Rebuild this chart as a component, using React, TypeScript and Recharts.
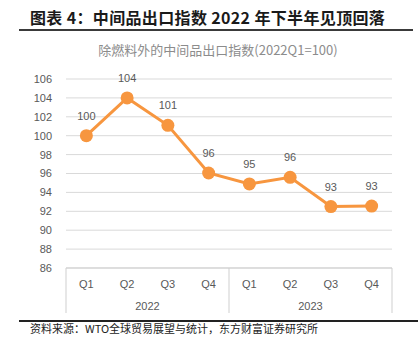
import React from 'react';
import { LineChart, Line, XAxis, YAxis, CartesianGrid, LabelList } from 'recharts';

const quarters = ['Q1', 'Q2', 'Q3', 'Q4', 'Q1', 'Q2', 'Q3', 'Q4'];
const years = ['2022', '2022', '2022', '2022', '2023', '2023', '2023', '2023'];
const values = [100, 104, 101.1, 96.05, 94.9, 95.6, 92.5, 92.55];
const yTicks = [86, 88, 90, 92, 94, 96, 98, 100, 102, 104, 106];

const title = '图表 4：中间品出口指数 2022 年下半年见顶回落';
const subtitle = '除燃料外的中间品出口指数(2022Q1=100)';
const source = '资料来源：WTO全球贸易展望与统计，东方财富证券研究所';

const data = quarters.map((q, i) => ({ key: i, q, year: years[i], value: values[i] }));

const W = 419;
const H = 348;
const XH = 45;
const M = { top: 79, right: 27, bottom: 348 - 268 - XH, left: 0 };
const YW = 66;
const PLOT_W = W - M.left - M.right - YW;
const BAND = PLOT_W / data.length;
const GRID = '#d9d9d9';
const BOX = '#cfcfcf';
const TXT = '#595959';
const ORANGE = '#F7963F';
const NUMFONT = 'Liberation Sans, Arial, sans-serif';

const XTick = (props: any) => {
  const { x, y, payload } = props;
  const i = payload.index ?? payload.value;
  const d = data[i];
  const items: any[] = [];
  items.push(
    <text key="q" x={x} y={y + 20} textAnchor="middle" fill={TXT} fontSize={11} fontFamily={NUMFONT}>
      {d.q}
    </text>
  );
  const first = i === 0 || years[i - 1] !== d.year;
  if (first) {
    const count = years.filter((yy) => yy === d.year).length;
    const left = x - BAND / 2;
    items.push(<line key="l" x1={left} x2={left} y1={y} y2={y + 45} stroke={BOX} strokeWidth={1} />);
    items.push(
      <text key="y" x={left + (count * BAND) / 2} y={y + 42} textAnchor="middle" fill={TXT} fontSize={11} fontFamily={NUMFONT}>
        {d.year}
      </text>
    );
  }
  if (i === data.length - 1) {
    const right = x + BAND / 2;
    items.push(<line key="r" x1={right} x2={right} y1={y} y2={y + 45} stroke={BOX} strokeWidth={1} />);
  }
  return <g>{items}</g>;
};

const DataLabel = (props: any) => {
  const { x, y, value } = props;
  return (
    <text x={x} y={y - 16} textAnchor="middle" fill={TXT} fontSize={11} fontFamily={NUMFONT}>
      {Math.round(value)}
    </text>
  );
};

export default function App() {
  return (
    <div style={{ position: 'fixed', left: 0, top: 0, width: W, height: H, background: '#fff', overflow: 'hidden' }}>
      <div
        style={{
          position: 'absolute',
          left: 30,
          top: 6,
          fontFamily: '"Noto Sans CJK SC", sans-serif',
          fontWeight: 700,
          fontSize: 16,
          letterSpacing: 0.35,
          color: '#1a1a1a',
          whiteSpace: 'nowrap',
          lineHeight: '22px',
        }}
      >
        {title}
      </div>
      <div style={{ position: 'absolute', left: 19, right: 6, top: 29, height: 2, background: '#3a3a3a' }} />
      <div
        style={{
          position: 'absolute',
          left: 0,
          width: 436,
          top: 41,
          textAlign: 'center',
          fontFamily: '"Noto Sans CJK SC", sans-serif',
          fontSize: 13,
          color: '#8c8c8c',
          whiteSpace: 'nowrap',
          lineHeight: '18px',
        }}
      >
        {subtitle}
      </div>
      <div style={{ position: 'absolute', left: 0, top: 0 }}>
        <LineChart width={W} height={H} data={data} margin={M}>
          <CartesianGrid horizontal vertical={false} stroke={GRID} strokeWidth={1} />
          <XAxis
            dataKey="key"
            type="category"
            axisLine={{ stroke: BOX }}
            tickLine={false}
            tickSize={0}
            tickMargin={0}
            tick={<XTick />}
            interval={0}
            height={XH}
            padding={{ left: BAND / 2, right: BAND / 2 }}
          />
          <YAxis
            width={YW}
            domain={[86, 106]}
            ticks={yTicks}
            interval={0}
            axisLine={false}
            tickLine={false}
            tickMargin={8}
            tick={{ fill: TXT, fontSize: 11, fontFamily: NUMFONT }}
          />
          <Line
            dataKey="value"
            stroke={ORANGE}
            strokeWidth={3}
            dot={{ r: 6.5, fill: ORANGE, stroke: ORANGE, strokeWidth: 0 }}
            isAnimationActive={false}
          >
            <LabelList dataKey="value" content={<DataLabel />} />
          </Line>
        </LineChart>
      </div>
      <div style={{ position: 'absolute', left: 19, right: 1, top: 320, height: 1.5, background: '#222' }} />
      <div
        style={{
          position: 'absolute',
          left: 30,
          top: 320,
          fontFamily: '"Noto Sans CJK SC", sans-serif',
          fontSize: 11,
          color: '#222',
          whiteSpace: 'nowrap',
          lineHeight: '16px',
        }}
      >
        {source}
      </div>
    </div>
  );
}
